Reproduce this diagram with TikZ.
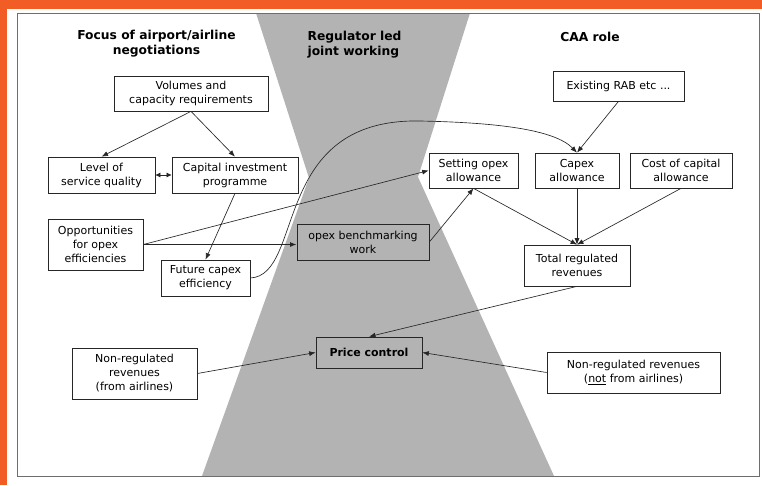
\documentclass[tikz,border=0pt]{standalone}
\usepackage{fontspec}
\setmainfont{DejaVu Sans}
\usetikzlibrary{arrows.meta}
\definecolor{framegrey}{RGB}{110,110,110}
\definecolor{wedgegrey}{RGB}{179,179,179}
\definecolor{bandorange}{RGB}{241,93,37}

\begin{document}
\begin{tikzpicture}[x=1pt,y=1pt]
\tikzstyle{box}=[draw=black!85, line width=0.7pt, fill=white, align=center, inner sep=0pt, font=\fontsize{11}{14}\selectfont]
\tikzstyle{greybox}=[box, fill=wedgegrey]
\tikzstyle{heading}=[align=center, font=\fontsize{12.3}{15}\selectfont\bfseries]
\tikzstyle{link}=[draw=black!85, line width=0.65pt, -{Latex[length=6.5pt,width=5pt]}]
\tikzstyle{dlink}=[draw=black!85, line width=0.65pt, {Latex[length=5pt,width=5pt]}-{Latex[length=5pt,width=5pt]}]

\useasboundingbox (0,0) rectangle (762,-485);
\fill[white] (0,0) rectangle (762,-485);
\fill[bandorange] (0,0) rectangle (762,-9);
\fill[bandorange] (0,0) rectangle (7,-485);
\fill[wedgegrey] (256,-13) -- (309,-178) -- (202,-476) -- (554,-476) -- (418,-177) -- (470,-13) -- cycle;
\draw[framegrey, line width=1pt] (17,-13) rectangle (759,-476);

\node[heading] (tfocus) at (156.5,-44) {Focus of airport/airline\\negotiations};
\node[heading, align=left, anchor=west] (treg) at (304,-45) {Regulator led\\joint working};
\node[heading] (tcaa) at (590,-37) {CAA role};

\node[box, minimum width=154pt, minimum height=35pt] (vol) at (191,-93.5) {Volumes and\\capacity requirements};
\node[box, minimum width=107pt, minimum height=36pt] (lsq) at (101.5,-175) {Level of\\service quality};
\node[box, minimum width=126pt, minimum height=36pt] (cip) at (235,-175) {Capital investment\\programme};
\node[box, minimum width=95pt, minimum height=51pt] (oof) at (95.5,-244.5) {Opportunities\\for opex\\efficiencies};
\node[box, minimum width=89pt, minimum height=36pt] (fce) at (205.5,-278) {Future capex\\efficiency};
\node[greybox, minimum width=132pt, minimum height=36pt] (obw) at (363,-242) {opex benchmarking\\work};
\node[box, minimum width=131pt, minimum height=30pt] (rab) at (618.5,-86) {Existing RAB etc ...};
\node[box, minimum width=89pt, minimum height=35pt] (soa) at (473.5,-170.5) {Setting opex\\allowance};
\node[box, minimum width=84pt, minimum height=35pt] (cxa) at (577,-170.5) {Capex\\allowance};
\node[box, minimum width=102pt, minimum height=35pt] (cca) at (681,-170.5) {Cost of capital\\allowance};
\node[box, minimum width=106pt, minimum height=41pt] (trr) at (577,-265.5) {Total regulated\\revenues};
\node[greybox, minimum width=106pt, minimum height=31pt, font=\fontsize{11}{14}\selectfont\bfseries] (pc) at (369,-352.5) {Price control};
\node[box, minimum width=125pt, minimum height=51pt] (nra) at (134.5,-373.5) {Non-regulated\\revenues\\(from airlines)};
\node[box, minimum width=173pt, minimum height=41pt] (nrn) at (633.5,-372.5) {Non-regulated revenues\\(\underline{not} from airlines)};

\draw[link] (vol.south) -- (lsq.north);
\draw[link] (vol.south) -- (cip.north);
\draw[dlink] (lsq.east) -- (cip.west);
\draw[link] (cip.south) -- (fce.north);
\draw[link, line width=1.5pt] (oof.east) -- (oof.east -| obw.west);
\draw[link] (oof.east) -- (soa.west);
\draw[link] (fce.east) .. controls (305,-275) and (270,-118) .. (420,-121) .. controls (500,-122.6) and (555,-130) .. (cxa.north);
\draw[link] (obw.east) -- (soa.south);
\draw[link] (rab.south) -- (cxa.north);
\draw[link] (soa.south) -- (trr.north);
\draw[link] (cxa.south) -- (trr.north);
\draw[link] (cca.south) -- (trr.north);
\draw[link] (trr.south) -- (pc.north);
\draw[link] (nra.east) -- (pc.west);
\draw[link] (nrn.west) -- (pc.east);
\end{tikzpicture}
\end{document}
